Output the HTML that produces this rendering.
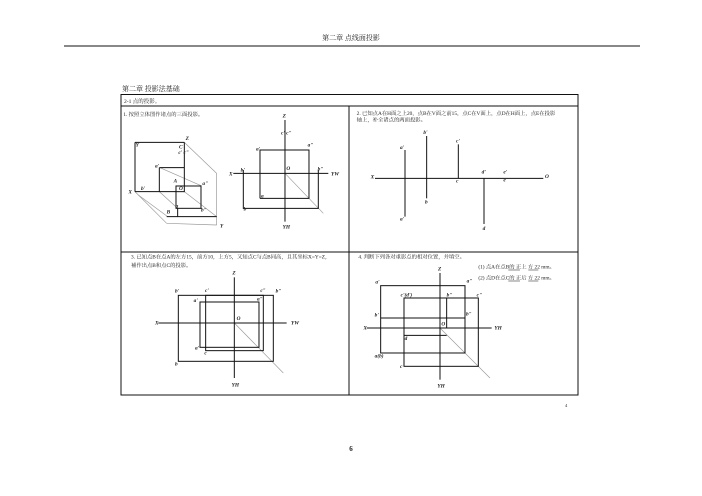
<!DOCTYPE html>
<html><head><meta charset="utf-8"><style>
html,body{margin:0;padding:0;background:#fff;}
svg{display:block}
text{font-family:"Liberation Serif","Noto Serif CJK SC",serif;fill:#222}
</style></head><body>
<svg width="702" height="496" viewBox="0 0 702 496" xmlns="http://www.w3.org/2000/svg">
<text x="351" y="40" font-size="7" text-anchor="middle">第二章 点线面投影</text>
<line x1="64" y1="46" x2="640" y2="46" stroke="#111" stroke-width="1"/>
<text x="122" y="91" font-size="7">第二章 投影法基础</text>
<rect x="121" y="94.5" width="457" height="300.5" fill="none" stroke="#111" stroke-width="1"/>
<line x1="121" y1="106" x2="578" y2="106" stroke="#111"/>
<line x1="349" y1="106" x2="349" y2="395" stroke="#111"/>
<line x1="121" y1="252" x2="578" y2="252" stroke="#111"/>
<text x="124" y="103" font-size="5.5">2-1 点的投影。</text>
<text x="565" y="407" font-size="4.5">4</text>
<text x="351" y="451" font-size="7" font-weight="bold" text-anchor="middle">6</text>

<!-- Panel 1 -->
<g transform="translate(115,110) scale(0.3333)" stroke="#111" stroke-width="3" fill="none">
<text x="25" y="18" font-size="16" stroke="none">1. 按照立体图作诸点的三面投影。</text>
<g stroke="#999" stroke-width="2">
<line x1="208" y1="97" x2="305" y2="190"/><line x1="305" y1="190" x2="305" y2="345"/>
<line x1="60" y1="245" x2="155" y2="340"/><line x1="155" y1="340" x2="305" y2="345"/>
<line x1="135" y1="173" x2="260" y2="228"/><line x1="70" y1="255" x2="158" y2="320"/>
<line x1="133" y1="245" x2="188" y2="295"/><line x1="208" y1="245" x2="305" y2="320"/>
<line x1="510" y1="190" x2="625" y2="310"/>
</g>
<line x1="60" y1="97" x2="208" y2="97"/><line x1="60" y1="97" x2="60" y2="245"/>
<line x1="208" y1="97" x2="208" y2="228"/><line x1="60" y1="245" x2="183" y2="245"/>
<line x1="133" y1="173" x2="133" y2="245"/><line x1="133" y1="173" x2="208" y2="173"/>
<rect x="183" y="228" width="75" height="67"/><rect x="183" y="228" width="25" height="17"/>
<line x1="155" y1="320" x2="305" y2="320"/><line x1="188" y1="295" x2="188" y2="320"/>
<line x1="510" y1="30" x2="510" y2="335"/><line x1="355" y1="190" x2="640" y2="190"/>
<polyline points="435,265 435,120 582,120 582,265 435,265"/>
<polyline points="385,180 385,295 610,295 610,180"/>
<g stroke="none" font-size="16" font-style="italic" font-weight="bold">
<text x="212" y="90">Z</text><text x="62" y="110">Y</text><text x="40" y="250">X</text><text x="315" y="352">Y</text>
<text x="192" y="115">C</text><text x="190" y="132">c' c"</text><text x="120" y="172">a'</text>
<text x="176" y="218">A</text><text x="192" y="240">O</text><text x="262" y="225">a"</text>
<text x="78" y="240">b'</text><text x="155" y="310">B</text><text x="182" y="292">a</text>
<text x="258" y="305">b"</text><text x="503" y="22">Z</text><text x="498" y="74">c' c"</text>
<text x="423" y="122">a'</text><text x="578" y="110">a"</text><text x="342" y="196">X</text>
<text x="648" y="196">YW</text><text x="377" y="184">b'</text><text x="608" y="182">b"</text>
<text x="514" y="180">O</text><text x="438" y="262">a</text><text x="386" y="302">b</text>
<text x="503" y="355">YH</text>
</g>
</g>

<!-- Panel 2 -->
<g transform="translate(350,110) scale(0.3333)" stroke="#111" stroke-width="3" fill="none">
<g stroke="none" font-size="16">
<text x="20" y="15">2. 已知点A在H面之上20，点B在V面之前15，点C在V面上，点D在H面上，点E在投影</text>
<text x="20" y="35">轴上，补全诸点的两面投影。</text>
</g>
<line x1="75" y1="205" x2="580" y2="205"/>
<line x1="165" y1="120" x2="165" y2="320"/><line x1="230" y1="78" x2="230" y2="265"/>
<line x1="325" y1="103" x2="325" y2="205"/><line x1="402" y1="205" x2="402" y2="342"/>
<g stroke="none" font-size="16" font-style="italic" font-weight="bold">
<text x="62" y="205">X</text><text x="585" y="204">O</text><text x="150" y="117">a'</text>
<text x="150" y="332">a'</text><text x="220" y="72">b'</text><text x="225" y="280">b</text>
<text x="318" y="98">c'</text><text x="318" y="218">c</text><text x="395" y="190">d'</text>
<text x="398" y="360">d</text><text x="460" y="190">e'</text><text x="460" y="214">e</text>
</g>
</g>

<!-- Panel 3 -->
<g transform="translate(115,248) scale(0.3333)" stroke="#111" stroke-width="3" fill="none">
<g stroke="none" font-size="16">
<text x="48" y="32">3. 已知点B在点A的左方15，前方10，上方5，又知点C与点B同高，且其坐标X=Y=Z，</text>
<text x="48" y="57">補作出点B和点C的投影。</text>
</g>
<line x1="358" y1="225" x2="505" y2="375" stroke="#999" stroke-width="2"/>
<line x1="358" y1="88" x2="358" y2="390"/><line x1="130" y1="225" x2="515" y2="225"/>
<rect x="190" y="142" width="285" height="198"/>
<rect x="255" y="162" width="177" height="136"/>
<rect x="272" y="142" width="173" height="166"/>
<g stroke="none" font-size="16" font-style="italic" font-weight="bold">
<text x="352" y="80">Z</text><text x="120" y="230">X</text><text x="528" y="230">YW</text>
<text x="365" y="216">O</text><text x="350" y="415">YH</text><text x="180" y="134">b'</text>
<text x="270" y="132">c'</text><text x="436" y="132">c"</text><text x="482" y="134">b"</text>
<text x="236" y="162">a'</text><text x="426" y="158">a"</text><text x="240" y="304">a'</text>
<text x="268" y="320">c</text><text x="180" y="352">b</text>
</g>
</g>

<!-- Panel 4 -->
<g transform="translate(350,248) scale(0.3333)" stroke="#111" stroke-width="3" fill="none">
<g stroke="none" font-size="16">
<text x="25" y="32">4. 判断下列各对重影点的相对位置，并填空。</text>
<text x="385" y="62">(1) 点A在点B的 正上 方 22 mm。</text>
<text x="385" y="95">(2) 点D在点C的 正后 方 22 mm。</text>
</g>
<line x1="475" y1="66" x2="510" y2="66" stroke-width="1.5"/><line x1="535" y1="66" x2="565" y2="66" stroke-width="1.5"/>
<line x1="475" y1="99" x2="510" y2="99" stroke-width="1.5"/><line x1="535" y1="99" x2="565" y2="99" stroke-width="1.5"/>
<line x1="270" y1="240" x2="420" y2="390" stroke="#999" stroke-width="2"/>
<line x1="270" y1="75" x2="270" y2="395"/><line x1="50" y1="240" x2="425" y2="240"/>
<rect x="92" y="113" width="253" height="202"/>
<rect x="162" y="150" width="223" height="205"/>
<line x1="92" y1="210" x2="345" y2="210"/>
<line x1="290" y1="150" x2="290" y2="240"/>
<line x1="162" y1="262" x2="290" y2="262"/>
<g stroke="none" font-size="16" font-style="italic" font-weight="bold">
<text x="264" y="68">Z</text><text x="40" y="245">X</text><text x="433" y="245">YH</text>
<text x="262" y="418">YH</text><text x="76" y="106">a'</text><text x="350" y="104">a"</text>
<text x="152" y="146">c'(d')</text><text x="290" y="146">b"</text><text x="380" y="146">c"</text>
<text x="74" y="206">b'</text><text x="348" y="202">b"</text><text x="274" y="232">O</text>
<text x="164" y="276">d</text><text x="74" y="328">a(b)</text><text x="150" y="360">c</text>
</g>
</g>
</svg>
</body></html>
